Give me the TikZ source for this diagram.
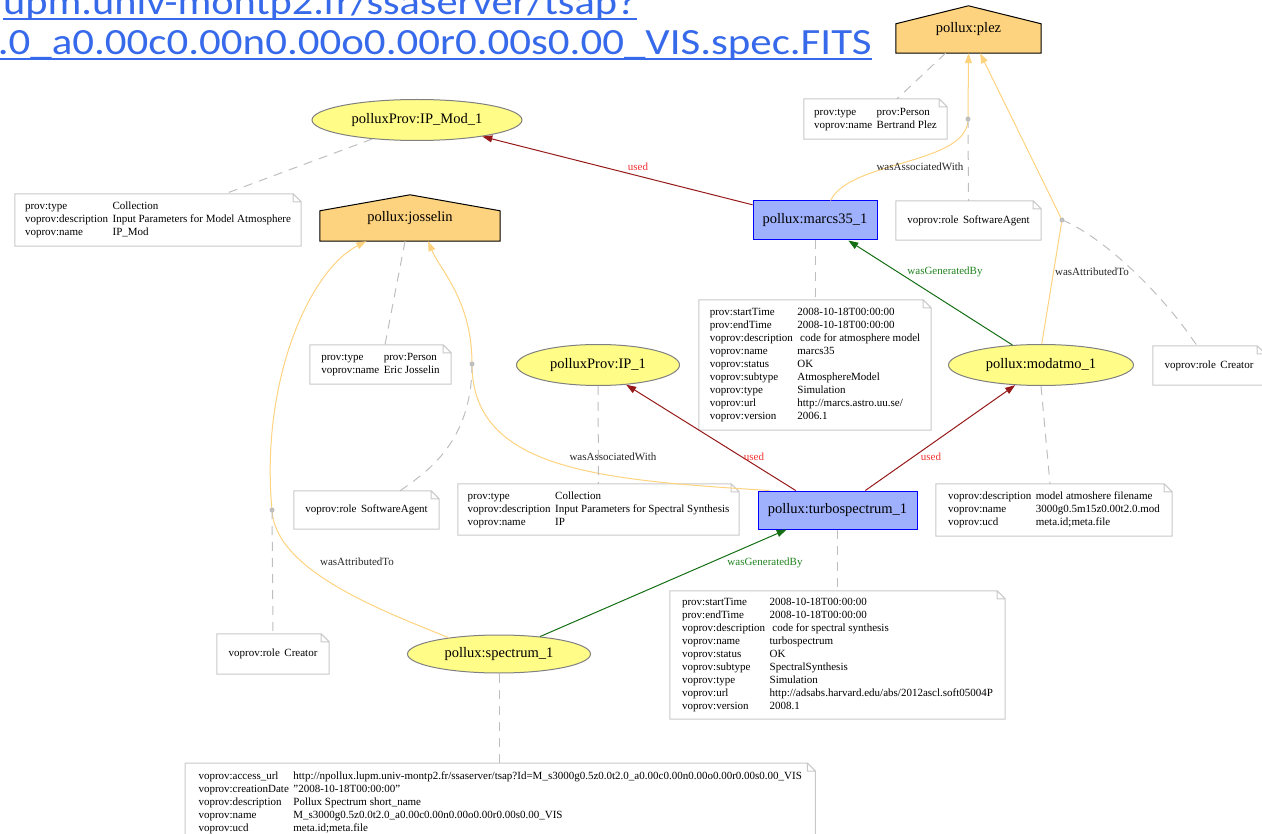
\documentclass[tikz,border=0pt]{standalone}
\usepackage{fontspec}
\usepackage{graphicx}
\setmainfont{Liberation Serif}
\newfontfamily\urlfont{Carlito}
\usetikzlibrary{arrows.meta,shapes.geometric,backgrounds}
\definecolor{pentity}{RGB}{255,252,135}
\definecolor{pactivity}{RGB}{159,177,252}
\definecolor{pagent}{RGB}{254,211,127}
\definecolor{pused}{RGB}{150,25,25}
\definecolor{pusedtxt}{RGB}{240,50,50}
\definecolor{pgen}{RGB}{20,110,20}
\definecolor{pgentxt}{RGB}{30,130,30}
\definecolor{passoc}{RGB}{254,211,127}
\definecolor{pnote}{RGB}{200,200,200}
\definecolor{plink}{RGB}{190,190,190}
\definecolor{purl}{RGB}{55,105,235}
\newcommand{\kv}[1]{\begin{tabular}{@{}l@{\hspace{4.5pt}}l@{}}#1\end{tabular}}

\begin{document}
\begin{tikzpicture}[x=1pt,y=-1pt,>={Triangle[length=10pt,width=7pt]},font=\fontsize{14.5}{17}\selectfont]
\tikzstyle{entity}=[ellipse, draw=gray, line width=1pt, fill=pentity, inner sep=0pt, minimum height=41pt]
\tikzstyle{activity}=[rectangle, draw=blue, line width=1pt, fill=pactivity, inner sep=0pt, minimum height=39pt]
\tikzstyle{agent}=[rectangle, inner sep=0pt]
\tikzstyle{note}=[rectangle, inner sep=0pt, align=left, font=\fontsize{11}{13}\selectfont]
\tikzstyle{lbl}=[font=\fontsize{11}{13}\selectfont, inner sep=1pt]
\tikzstyle{usedlbl}=[lbl, text=pusedtxt]
\tikzstyle{genlbl}=[lbl, text=pgentxt]
\tikzstyle{assoclbl}=[lbl, text=black!85]
\tikzstyle{used}=[->, pused, line width=1pt]
\tikzstyle{gen}=[->, pgen, line width=1pt]
\tikzstyle{assoc}=[->, passoc, line width=1pt]
\tikzstyle{link}=[plink, dash pattern=on 9pt off 7pt, line width=1pt]
\tikzstyle{dot}=[circle, fill=plink, inner sep=0pt, minimum size=5pt]
\tikzstyle{urlnode}=[inner sep=0pt, text=purl, font=\urlfont\fontsize{37}{44}\selectfont]

\useasboundingbox (0,0) rectangle (1262,834);
\clip (0,0) rectangle (1262,834);

% url of the spectrum file
\node[urlnode, anchor=base east] (url1) at (637,15) {\scalebox{1.145}[1]{upm.univ-montp2.fr/ssaserver/tsap?}};
\node[urlnode, anchor=base east] (url2) at (872,55) {\scalebox{1.16}[1]{.0\_a0.00c0.00n0.00o0.00r0.00s0.00\_VIS.spec.FITS}};
\draw[purl, line width=2.5pt] ([yshift=-4pt]url1.base west) -- ([yshift=-4pt]url1.base east);
\draw[purl, line width=2.5pt] ([yshift=-4pt]url2.base west) -- ([yshift=-4pt]url2.base east);

% agents, entities, activities
\node[agent, minimum width=145pt, minimum height=47pt] (plez) at (968.5,29.5) {pollux:plez};
\node[entity, minimum width=210pt] (ipmod) at (417,120) {polluxProv:IP\_Mod\_1};
\node[agent, minimum width=180pt, minimum height=46pt] (josselin) at (410,218) {pollux:josselin};
\node[activity, minimum width=124pt] (marcs) at (815,220.5) {pollux:marcs35\_1};
\node[entity, minimum width=163pt] (ip) at (598,365) {polluxProv:IP\_1};
\node[entity, minimum width=185pt] (modatmo) at (1041,365) {pollux:modatmo\_1};
\node[activity, minimum width=159pt, minimum height=38pt] (turbo) at (837.5,510) {pollux:turbospectrum\_1};
\node[entity, minimum width=183pt, minimum height=38pt] (spectrum) at (499,654) {pollux:spectrum\_1};

% notes
\node[note, minimum width=143pt, minimum height=40pt] (nplez) at (875.5,119) {\kv{prov:type & prov:Person\\ voprov:name & Bertrand Plez}};
\node[note, minimum width=286pt, minimum height=52pt] (nipmod) at (158,220) {\kv{prov:type & Collection\\ voprov:description & Input Parameters for Model Atmosphere\\ voprov:name & IP\_Mod}};
\node[note, minimum width=145pt, minimum height=39pt] (nmarcsrole) at (968.5,220.5) {\kv{voprov:role & SoftwareAgent}};
\node[note, minimum width=232pt, minimum height=130pt] (nmarcs) at (815,365) {\kv{prov:startTime & 2008-10-18T00:00:00\\ prov:endTime & 2008-10-18T00:00:00\\ voprov:description & \ code for atmosphere model\\ voprov:name & marcs35\\ voprov:status & OK\\ voprov:subtype & AtmosphereModel\\ voprov:type & Simulation\\ voprov:url & http://marcs.astro.uu.se/\\ voprov:version & 2006.1}};
\node[note, minimum width=141pt, minimum height=39pt] (njosselin) at (380.5,364.5) {\kv{prov:type & prov:Person\\ voprov:name & Eric Josselin}};
\node[note, minimum width=112pt, minimum height=39pt] (nmodrole) at (1209,365.5) {\kv{voprov:role & Creator}};
\node[note, minimum width=145pt, minimum height=38pt] (nturborole) at (366.5,510) {\kv{voprov:role & SoftwareAgent}};
\node[note, minimum width=281pt, minimum height=51pt] (nip) at (598.5,509.5) {\kv{prov:type & Collection\\ voprov:description & Input Parameters for Spectral Synthesis\\ voprov:name & IP}};
\node[note, minimum width=236pt, minimum height=52pt] (nmodatmo) at (1054,510) {\kv{voprov:description & model atmoshere filename\\ voprov:name & 3000g0.5m15z0.00t2.0.mod\\ voprov:ucd & meta.id;meta.file}};
\node[note, minimum width=335pt, minimum height=128pt] (nturbo) at (837.5,655) {\kv{prov:startTime & 2008-10-18T00:00:00\\ prov:endTime & 2008-10-18T00:00:00\\ voprov:description & \ code for spectral synthesis\\ voprov:name & turbospectrum\\ voprov:status & OK\\ voprov:subtype & SpectralSynthesis\\ voprov:type & Simulation\\ voprov:url & http://adsabs.harvard.edu/abs/2012ascl.soft05004P\\ voprov:version & 2008.1}};
\node[note, minimum width=112pt, minimum height=40pt] (nspecrole) at (273,654) {\kv{voprov:role & Creator}};
\node[note, minimum width=630pt, minimum height=80pt, anchor=north west] (nspectrum) at (185,763) {\kv{voprov:access\_url & http://npollux.lupm.univ-montp2.fr/ssaserver/tsap?Id=M\_s3000g0.5z0.0t2.0\_a0.00c0.00n0.00o0.00r0.00s0.00\_VIS\\ voprov:creationDate & "2008-10-18T00:00:00"\\ voprov:description & Pollux Spectrum short\_name\\ voprov:name & M\_s3000g0.5z0.0t2.0\_a0.00c0.00n0.00o0.00r0.00s0.00\_VIS\\ voprov:ucd & meta.id;meta.file}};

\foreach \n in {nplez,nipmod,nmarcsrole,nmarcs,njosselin,nmodrole,nturborole,nip,nmodatmo,nturbo,nspecrole,nspectrum}
  \draw[pnote, line width=1pt] (\n.north west) -- ([xshift=-8pt]\n.north east) -- ([yshift=-8pt]\n.north east) -- (\n.south east) -- (\n.south west) -- cycle ([xshift=-8pt]\n.north east) |- ([yshift=-8pt]\n.north east);

\begin{scope}[on background layer]
\foreach \n/\r in {plez/18,josselin/16}
  \draw[fill=pagent, line width=1pt] (\n.south west) -- ([yshift=-\r pt]\n.north west) -- (\n.north) -- ([yshift=-\r pt]\n.north east) -- (\n.south east) -- cycle;
\end{scope}

% association points
\coordinate (d1) at (968,119);
\coordinate (d2) at (1062,220);
\coordinate (d3) at (472,364);
\coordinate (d4) at (272,510);

% relations
\draw[used] (marcs) -- (ipmod) node[usedlbl] at (638,167) {used};
\draw[used] (turbo.155) -- (ip.-35) node[usedlbl] at (754,457) {used};
\draw[used] (turbo.35) -- (modatmo.218) node[usedlbl] at (931,457) {used};
\draw[gen] (modatmo.145) -- (marcs.-31) node[genlbl] at (945,272) {wasGeneratedBy};
\draw[gen] (spectrum.23) -- (turbo.201) node[genlbl] at (765,563) {wasGeneratedBy};
\draw[assoc] (marcs.52) .. controls (850,160) and (968,165) .. (d1) -- (plez.south) node[assoclbl] at (920,167) {wasAssociatedWith};
\draw[assoc] (modatmo.88) -- (d2) -- (plez.-64) node[assoclbl] at (1092,272) {wasAttributedTo};
\draw[assoc] (turbo.164) .. controls (600,480) and (472,470) .. (d3) .. controls (472,300) and (440,270) .. (josselin.-52) node[assoclbl] at (613,457) {wasAssociatedWith};
\draw[assoc] (spectrum.162) .. controls (380,610) and (275,570) .. (d4) .. controls (260,380) and (310,270) .. (josselin.208) node[assoclbl] at (357,562) {wasAttributedTo};

% note links
\draw[link] (ipmod.203) -- ([xshift=67pt]nipmod.north);
\draw[link] (plez.226) -- ([xshift=21.5pt]nplez.north);
\draw[link] (d1) -- (nmarcsrole.north);
\draw[link] (marcs) -- (nmarcs);
\draw[link] (josselin.258) -- ([xshift=4.5pt]njosselin.north);
\draw[link] (d2) .. controls (1100,235) and (1160,290) .. ([xshift=-12pt]nmodrole.north);
\draw[link] (ip) -- (nip);
\draw[link] (modatmo.south) -- ([xshift=-4pt]nmodatmo.north);
\draw[link] (d3) .. controls (472,440) and (430,470) .. ([xshift=33.5pt]nturborole.north);
\draw[link] (turbo) -- (nturbo);
\draw[link] (d4) -- (nspecrole.north);
\draw[link] (spectrum.south) -- (spectrum.south |- nspectrum.north);

\foreach \d in {d1,d2,d3,d4}
  \node[dot] (dot\d) at (\d) {};
\end{tikzpicture}
\end{document}
